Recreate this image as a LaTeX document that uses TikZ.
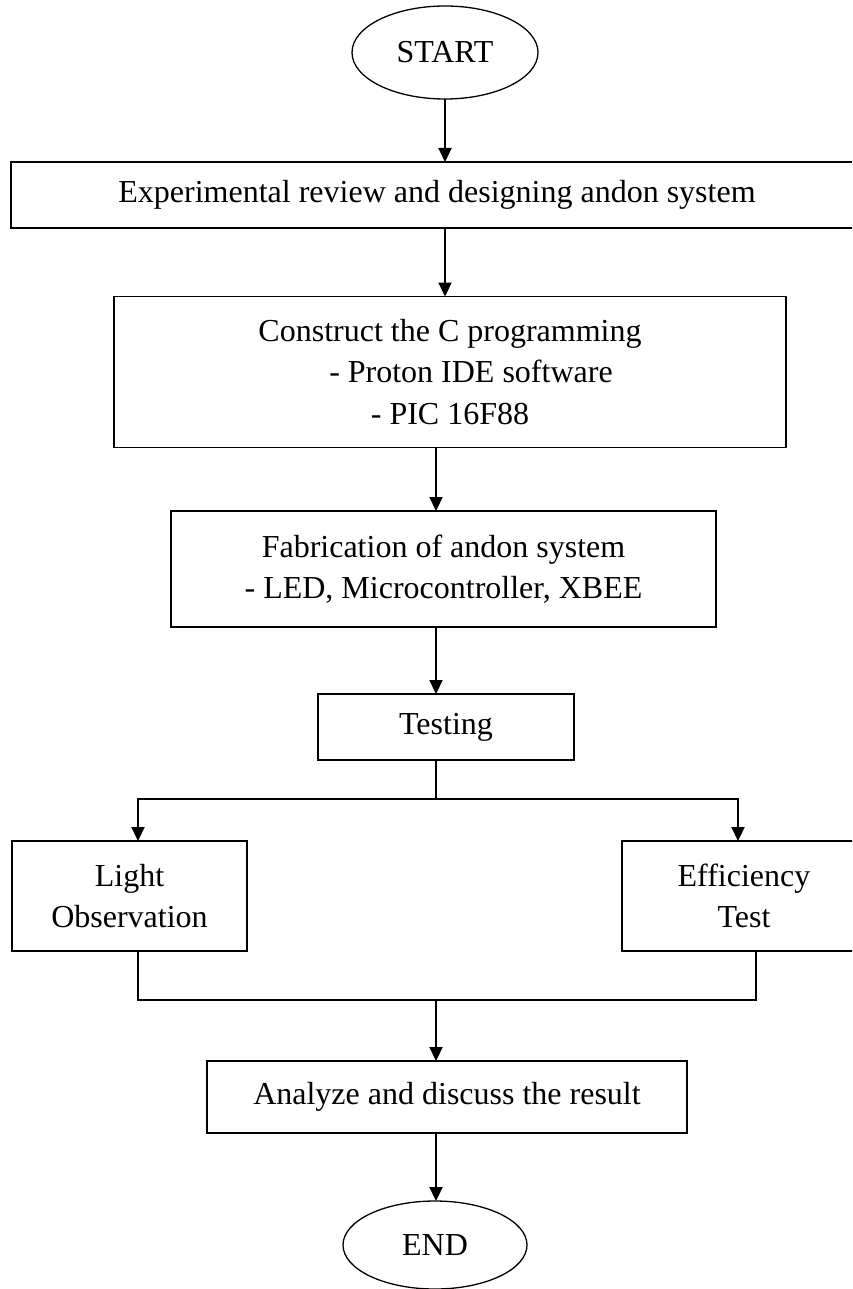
\documentclass[tikz,border=0pt]{standalone}
\usepackage{fontspec}
\setmainfont{Liberation Serif}
\usetikzlibrary{arrows.meta,shapes.geometric,calc}
\begin{document}
\begin{tikzpicture}[x=1pt,y=-1pt,
  every node/.style={font=\fontsize{32}{41.5}\selectfont, inner sep=0pt, outer sep=0pt},
  box/.style={draw, line width=1.8pt, align=center},
  term/.style={draw, ellipse, line width=1.3pt},
  conn/.style={line width=2.2pt, -{Triangle[length=14pt,width=13pt]}},
  stem/.style={line width=1.7pt}]
\useasboundingbox (0,0) rectangle (852,1289);
\clip (0,0) rectangle (852,1289);
\fill[white] (0,0) rectangle (852,1289);

\node[term, minimum width=186pt, minimum height=93pt] (start) at (445,52.5) {START};
\node[box, minimum width=852pt, minimum height=66pt] (exp) at (437,195) {Experimental review and designing andon system};
\node[box, minimum width=672pt, minimum height=151pt] (con) at (450,372) {Construct the C programming\\\hspace*{42pt}- Proton IDE software\\- PIC 16F88};
\node[box, minimum width=545pt, minimum height=116pt] (fab) at (443.5,569) {Fabrication of andon system\\- LED, Microcontroller, XBEE};
\node[box, minimum width=256pt, minimum height=66pt] (test) at (446,727) {Testing};
\node[box, minimum width=235pt, minimum height=110pt] (light) at (129.5,896) {Light\\Observation};
\node[box, minimum width=244pt, minimum height=110pt] (eff) at (744,896) {Efficiency\\Test};
\node[box, minimum width=480pt, minimum height=72pt] (ana) at (447,1097) {Analyze and discuss the result};
\node[term, minimum width=184pt, minimum height=88pt] (end) at (435,1245) {END};

\coordinate (ax) at (436,0);
\coordinate (split) at (436,799);
\coordinate (join) at (436,1000);
\coordinate (la) at (138,0);
\coordinate (ra) at (738,0);
\coordinate (rb) at (756,0);

\draw[conn] (start.south) -- (start.south |- exp.north);
\draw[conn] (exp.south -| start.south) -- (con.north -| start.south);
\draw[conn] (con.south -| ax) -- (fab.north -| ax);
\draw[conn] (fab.south -| ax) -- (test.north -| ax);
\draw[stem] (test.south -| ax) -- (split);
\draw[conn] (split) -| (light.north -| la);
\draw[conn] (split) -| (eff.north -| ra);
\draw[stem] (light.south -| la) -- (join -| la) -- (join -| rb) -- (eff.south -| rb);
\draw[conn] (join) -- (ana.north -| ax);
\draw[conn] (ana.south -| ax) -- (end.north -| ax);
\end{tikzpicture}
\end{document}
